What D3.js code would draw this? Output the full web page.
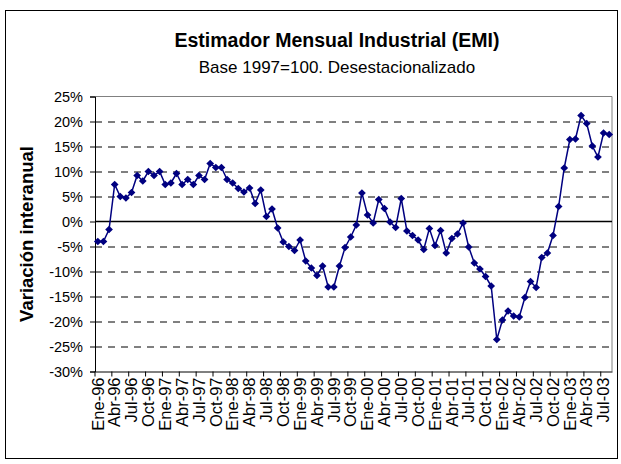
<!DOCTYPE html>
<html>
<head>
<meta charset="utf-8">
<script src="https://cdn.jsdelivr.net/npm/d3@7"></script>
<style>
  body { margin: 0; background: #fff; }
  svg text { font-family: Arial, "Liberation Sans", sans-serif; }
</style>
</head>
<body>
<div id="chart"></div>
<script>
// meses y años para las etiquetas de categoría
const meses = ["Ene", "Feb", "Mar", "Abr", "May", "Jun", "Jul", "Ago", "Sep", "Oct", "Nov", "Dic"]
const anios = ["96", "97", "98", "99", "00", "01", "02", "03"]

// variación interanual (%), Ene-96 .. Ago-03
const variacion = [
  -4.0, -4.0, -1.6, 7.4, 5.0, 4.7, 5.8, 9.2, 8.1, 10.0, 9.2, 10.0,
  7.4, 7.7, 9.6, 7.4, 8.4, 7.4, 9.2, 8.4, 11.6, 10.8, 10.8, 8.4,
  7.7, 6.6, 5.9, 6.7, 3.6, 6.3, 1.0, 2.5, -1.3, -4.1, -5.0, -5.8,
  -3.7, -7.9, -9.3, -10.8, -8.9, -13.1, -13.1, -8.9, -5.2, -3.1, -0.7, 5.7,
  1.3, -0.3, 4.4, 2.6, -0.1, -1.2, 4.6, -1.9, -2.8, -3.7, -5.6, -1.4,
  -4.8, -1.8, -6.3, -3.4, -2.5, -0.3, -5.1, -8.3, -9.5, -11.0, -12.9, -23.6,
  -19.7, -17.9, -18.9, -19.1, -15.2, -12.0, -13.2, -7.2, -6.3, -2.8, 3.0, 10.7,
  16.4, 16.5, 21.2, 19.6, 15.1, 12.9, 17.7, 17.4
]

const yTicks = [25, 20, 15, 10, 5, 0, -5, -10, -15, -20, -25, -30]

const categorias = []
anios.forEach(a => meses.forEach(m => categorias.push(m + "-" + a)))
categorias.length = variacion.length
const etiquetas = categorias.filter((d, i) => i % 3 === 0)

const width = 621, height = 464
const marginL = 95, marginT = 96.5, plotR = 612, plotB = 371.5

const svg = d3.select("#chart")
  .append("svg")
  .attr("width", width)
  .attr("height", height)

// marco del gráfico
svg.append("rect")
  .attr("x", 5.5).attr("y", 10.5)
  .attr("width", 612).attr("height", 448)
  .attr("fill", "#fff")
  .attr("stroke", "#000")

const x = d3.scaleBand()
  .domain(categorias)
  .range([marginL, plotR])
  .padding(0)

const y = d3.scaleLinear()
  .domain([-30, 25])
  .range([plotB, marginT])

const cx = d => x(d) + x.bandwidth() / 2

// líneas de grilla
svg.append("g")
  .attr("transform", `translate(${marginL},0)`)
  .call(d3.axisLeft(y).tickValues(yTicks.filter(d => d !== 0 && d !== 25 && d !== -30))
    .tickSize(-(plotR - marginL)).tickFormat(""))
  .call(g => g.select(".domain").remove())
  .call(g => g.selectAll(".tick line")
    .attr("stroke", "#000")
    .attr("stroke-dasharray", "7,6"))

// borde del área de trazado
svg.append("path")
  .attr("d", `M${marginL},${marginT}H${plotR}V${plotB}`)
  .attr("fill", "none")
  .attr("stroke", "#808080")

// línea del cero
svg.append("line")
  .attr("x1", marginL).attr("x2", plotR)
  .attr("y1", y(0)).attr("y2", y(0))
  .attr("stroke", "#000")
  .attr("stroke-width", 1.3)

// eje Y
svg.append("g")
  .attr("transform", `translate(${marginL},0)`)
  .call(d3.axisLeft(y).tickValues(yTicks).tickSize(5).tickPadding(7)
    .tickFormat(d => d + "%"))
  .call(g => g.select(".domain").attr("stroke", "#000"))
  .call(g => g.selectAll(".tick line").attr("stroke", "#000"))
  .call(g => g.selectAll("text")
    .attr("fill", "#000")
    .style("font-size", "14.5px"))

// eje X
svg.append("g")
  .attr("transform", `translate(0,${plotB})`)
  .call(d3.axisBottom(x).tickValues(etiquetas).tickSize(0).tickPadding(0))
  .call(g => g.select(".domain").attr("stroke", "#000"))
  .call(g => g.selectAll(".tick text")
    .attr("transform", "rotate(-90)")
    .attr("x", -6)
    .attr("y", 0)
    .attr("dy", "0.35em")
    .attr("text-anchor", "end")
    .attr("fill", "#000")
    .style("font-size", "16.5px"))
  .call(g => g.selectAll(".tick").append("line")
    .attr("x1", -x.bandwidth() / 2).attr("x2", -x.bandwidth() / 2)
    .attr("y1", 0).attr("y2", 5)
    .attr("stroke", "#000"))

// serie
const line = d3.line()
  .x((d, i) => cx(categorias[i]))
  .y(d => y(d))

svg.append("path")
  .datum(variacion)
  .attr("d", line)
  .attr("fill", "none")
  .attr("stroke", "#000080")
  .attr("stroke-width", 1.5)

svg.append("g")
  .selectAll("path")
  .data(variacion)
  .join("path")
  .attr("d", d3.symbol(d3.symbolSquare, 30))
  .attr("transform", (d, i) => `translate(${cx(categorias[i])},${y(d)}) rotate(45)`)
  .attr("fill", "#000080")

// títulos
svg.append("text")
  .attr("x", 337).attr("y", 47)
  .attr("text-anchor", "middle")
  .style("font-size", "19.5px")
  .style("font-weight", "bold")
  .text("Estimador Mensual Industrial (EMI)")

svg.append("text")
  .attr("x", 337).attr("y", 73)
  .attr("text-anchor", "middle")
  .style("font-size", "17px")
  .text("Base 1997=100. Desestacionalizado")

svg.append("text")
  .attr("transform", `translate(33,${(marginT + plotB) / 2}) rotate(-90)`)
  .attr("text-anchor", "middle")
  .style("font-size", "18.5px")
  .style("font-weight", "bold")
  .text("Variación interanual")
</script>
</body>
</html>
